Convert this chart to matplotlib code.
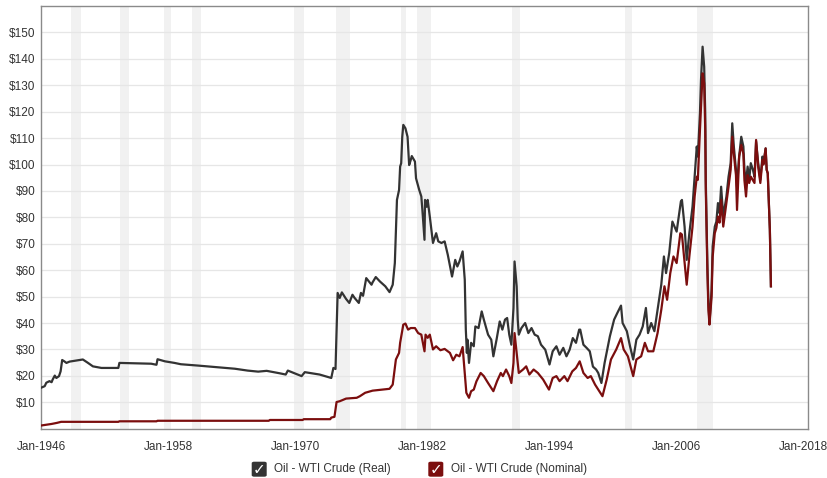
import matplotlib
matplotlib.use("Agg")
import matplotlib.pyplot as plt
from matplotlib.patches import FancyBboxPatch

plt.rcParams['font.family'] = ['Liberation Sans', 'DejaVu Sans']

# WTI crude, inflation adjusted (real), decimal year / USD per barrel
real_year = [
    1946.0, 1946.35, 1946.5, 1946.8, 1947.0, 1947.1, 1947.3, 1947.45, 1947.7, 1947.85,
    1948.0, 1948.2, 1948.4, 1948.7, 1949.95, 1950.4, 1950.9, 1951.7, 1953.3, 1953.4,
    1956.4, 1956.9, 1957.0, 1957.7, 1958.6, 1959.2, 1960.8, 1962.5, 1964.3, 1965.5,
    1966.5, 1967.3, 1968.5, 1969.1, 1969.3, 1970.6, 1970.9, 1972.3, 1973.4, 1973.6,
    1973.8, 1974.0, 1974.2, 1974.4, 1974.8, 1975.1, 1975.4, 1975.6, 1976.0, 1976.2,
    1976.4, 1976.7, 1977.2, 1977.3, 1977.6, 1978.0, 1978.5, 1978.9, 1979.2, 1979.4,
    1979.6, 1979.8, 1979.9, 1980.0, 1980.1, 1980.2, 1980.4, 1980.6, 1980.75, 1980.9,
    1981.0, 1981.3, 1981.4, 1981.7, 1981.9, 1982.0, 1982.2, 1982.25, 1982.4, 1982.5,
    1982.7, 1983.0, 1983.3, 1983.5, 1983.8, 1984.1, 1984.4, 1984.8, 1985.1, 1985.3,
    1985.5, 1985.8, 1986.0, 1986.1, 1986.2, 1986.25, 1986.4, 1986.6, 1986.85, 1987.0,
    1987.3, 1987.6, 1987.8, 1988.2, 1988.5, 1988.7, 1989.0, 1989.3, 1989.55, 1989.8,
    1990.0, 1990.2, 1990.4, 1990.6, 1990.7, 1990.9, 1991.0, 1991.1, 1991.35, 1991.7,
    1992.0, 1992.3, 1992.6, 1992.9, 1993.2, 1993.6, 1994.0, 1994.3, 1994.65, 1994.95,
    1995.3, 1995.6, 1995.9, 1996.2, 1996.5, 1996.8, 1996.9, 1997.2, 1997.5, 1997.8,
    1998.1, 1998.4, 1998.6, 1998.9, 1999.2, 1999.7, 2000.1, 2000.4, 2000.75, 2000.9,
    2001.3, 2001.6, 2001.9, 2002.2, 2002.5, 2002.8, 2003.1, 2003.3, 2003.6, 2003.9,
    2004.2, 2004.55, 2004.8, 2005.0, 2005.3, 2005.6, 2005.8, 2006.0, 2006.4, 2006.5,
    2006.75, 2006.95, 2007.2, 2007.5, 2007.7, 2007.9, 2008.0, 2008.2, 2008.3, 2008.45,
    2008.6, 2008.7, 2008.75, 2008.9, 2009.0, 2009.1, 2009.3, 2009.4, 2009.6, 2009.75,
    2009.9, 2010.05, 2010.2, 2010.4, 2010.7, 2010.9, 2011.1, 2011.25, 2011.4, 2011.6,
    2011.7, 2011.9, 2012.1, 2012.3, 2012.4, 2012.55, 2012.7, 2012.85, 2013.0, 2013.2,
    2013.35, 2013.5, 2013.7, 2013.9, 2014.1, 2014.2, 2014.4, 2014.5, 2014.6, 2014.8,
    2014.9,
]
real_price = [
    15.5, 16.1, 17.4, 18.0, 17.6, 18.6, 20.1, 19.2, 19.9, 21.7,
    26.0, 25.5, 24.9, 25.4, 26.2, 25.0, 23.6, 23.0, 23.0, 24.9,
    24.6, 24.2, 26.3, 25.5, 24.9, 24.4, 23.9, 23.3, 22.7, 22.0,
    21.6, 21.9, 21.0, 20.5, 22.0, 19.9, 21.4, 20.5, 19.2, 23.0,
    22.6, 51.4, 49.5, 51.6, 49.1, 47.6, 50.7, 49.5, 47.6, 51.4,
    50.3, 57.0, 54.5, 55.4, 57.4, 55.7, 53.9, 51.7, 54.5, 62.7,
    86.6, 90.4, 99.2, 100.5, 110.5, 115.0, 113.7, 110.5, 99.8, 101.7,
    103.2, 101.1, 94.8, 90.4, 87.9, 82.8, 71.5, 86.6, 84.0, 86.6,
    80.3, 70.3, 74.0, 70.9, 70.3, 70.9, 65.8, 57.6, 63.9, 61.4,
    63.3, 67.1, 56.4, 37.5, 28.7, 33.7, 24.9, 32.5, 31.2, 38.7,
    38.1, 44.4, 41.3, 35.6, 33.7, 27.4, 33.7, 40.6, 37.5, 41.3,
    41.9, 35.6, 31.8, 45.7, 63.3, 53.9, 41.3, 35.6, 38.1, 40.0,
    36.2, 38.1, 35.6, 35.0, 31.8, 29.9, 24.3, 29.3, 31.2, 28.0,
    30.6, 27.4, 29.9, 34.3, 32.5, 37.5, 37.5, 31.8, 30.6, 29.3,
    23.5, 22.4, 21.1, 17.3, 24.9, 35.0, 41.3, 43.8, 46.6, 40.0,
    36.9, 31.2, 26.2, 33.7, 35.6, 38.7, 45.7, 36.2, 40.0, 36.9,
    45.0, 54.5, 65.2, 58.9, 66.5, 78.4, 76.5, 74.6, 86.0, 86.6,
    76.5, 63.9, 74.0, 84.1, 95.4, 106.8, 103.0, 119.4, 132.0, 144.6,
    137.0, 119.4, 94.2, 62.7, 47.6, 40.0, 52.6, 69.0, 76.5, 78.4,
    85.4, 81.6, 91.6, 80.3, 87.9, 95.4, 100.5, 115.6, 106.8, 98.0,
    91.6, 103.0, 110.5, 106.8, 98.0, 93.0, 99.2, 94.2, 100.5, 98.0,
    95.4, 108.7, 100.5, 94.2, 103.0, 100.5, 106.1, 98.0, 96.7, 75.3,
    53.9,
]

# WTI crude, nominal
nom_year = [
    1946.0, 1946.5, 1947.0, 1947.5, 1947.9, 1953.3, 1953.4, 1956.9, 1957.0, 1967.5,
    1967.6, 1970.7, 1970.8, 1973.3, 1973.4, 1973.7, 1973.9, 1974.2, 1974.8, 1975.8,
    1976.1, 1976.6, 1977.3, 1978.9, 1979.2, 1979.5, 1979.8, 1979.9, 1980.2, 1980.4,
    1980.65, 1980.9, 1981.3, 1981.6, 1981.9, 1982.2, 1982.3, 1982.5, 1982.7, 1983.0,
    1983.3, 1983.7, 1984.1, 1984.6, 1984.9, 1985.2, 1985.5, 1985.8, 1986.0, 1986.15,
    1986.4, 1986.6, 1986.85, 1987.1, 1987.5, 1987.8, 1988.2, 1988.7, 1989.05, 1989.4,
    1989.6, 1989.9, 1990.2, 1990.4, 1990.6, 1990.7, 1990.9, 1991.1, 1991.5, 1991.8,
    1992.1, 1992.5, 1992.9, 1993.4, 1993.95, 1994.3, 1994.65, 1994.95, 1995.4, 1995.7,
    1996.15, 1996.5, 1996.85, 1997.2, 1997.6, 1997.9, 1998.3, 1998.7, 1999.0, 1999.4,
    1999.8, 2000.3, 2000.75, 2001.0, 2001.4, 2001.9, 2002.2, 2002.65, 2003.0, 2003.3,
    2003.8, 2004.2, 2004.55, 2004.85, 2005.1, 2005.4, 2005.7, 2006.0, 2006.35, 2006.5,
    2006.75, 2006.95, 2007.2, 2007.5, 2007.7, 2007.9, 2008.0, 2008.2, 2008.45, 2008.6,
    2008.7, 2008.75, 2008.9, 2009.0, 2009.1, 2009.3, 2009.4, 2009.6, 2009.75, 2009.9,
    2010.05, 2010.2, 2010.4, 2010.7, 2010.9, 2011.1, 2011.25, 2011.4, 2011.6, 2011.7,
    2011.9, 2012.1, 2012.3, 2012.4, 2012.55, 2012.7, 2012.85, 2013.0, 2013.2, 2013.35,
    2013.5, 2013.7, 2013.9, 2014.1, 2014.2, 2014.4, 2014.5, 2014.6, 2014.8, 2014.9,
]
nom_price = [
    1.2, 1.5, 1.8, 2.2, 2.6, 2.6, 2.8, 2.8, 3.0, 3.0,
    3.3, 3.3, 3.6, 3.6, 4.2, 4.5, 10.1, 10.4, 11.4, 11.7,
    12.3, 13.6, 14.4, 15.1, 16.7, 26.2, 28.7, 32.5, 39.4, 39.8,
    37.5, 38.1, 38.1, 36.2, 35.6, 29.3, 35.6, 34.4, 35.6, 30.0,
    31.2, 29.7, 30.2, 28.7, 25.9, 28.0, 27.4, 30.9, 21.1, 13.6,
    11.7, 14.2, 14.8, 17.9, 21.1, 19.9, 17.3, 14.2, 18.0, 21.1,
    19.9, 22.4, 19.9, 17.3, 24.9, 36.2, 28.7, 21.1, 22.4, 23.6,
    20.5, 22.4, 21.1, 18.6, 14.8, 19.2, 19.9, 18.0, 19.9, 18.0,
    21.7, 23.0, 25.5, 21.1, 19.2, 19.9, 16.7, 14.2, 12.3, 18.6,
    26.2, 30.0, 34.3, 30.0, 27.4, 19.9, 26.2, 27.4, 32.5, 29.3,
    29.3, 36.2, 45.0, 53.9, 48.8, 58.9, 65.2, 62.7, 74.0, 73.5,
    62.7, 54.5, 65.2, 76.5, 87.9, 95.4, 94.2, 113.0, 134.5, 130.7,
    113.0, 91.0, 60.0, 45.0, 39.4, 50.0, 65.0, 74.0, 76.0, 80.3,
    78.0, 86.6, 76.5, 85.4, 91.6, 98.0, 110.5, 104.0, 96.0, 82.8,
    103.0, 107.4, 104.0, 94.0, 87.9, 96.0, 93.0, 95.4, 94.0, 93.0,
    109.3, 99.0, 93.0, 101.7, 100.0, 106.1, 98.0, 96.7, 75.3, 53.9,
]

# US recessions (shaded bands)
rec_start = [1948.83, 1953.5, 1957.58, 1960.25, 1969.92, 1973.83, 1980.0, 1981.5, 1990.5, 2001.17, 2007.92]
rec_end = [1949.75, 1954.33, 1958.25, 1961.08, 1970.83, 1975.17, 1980.5, 1982.83, 1991.17, 2001.83, 2009.42]

xtick_years = [1946, 1958, 1970, 1982, 1994, 2006, 2018]
xtick_labels = ['Jan-%d' % y for y in xtick_years]
ytick_vals = list(range(10, 160, 10))

fig = plt.figure(figsize=(8.28, 4.78), dpi=100)
ax = fig.add_axes([41 / 828, 49.3 / 478, 767 / 828, 422.7 / 478])

for s, e in zip(rec_start, rec_end):
    ax.axvspan(s, e, color='#f1f1f1', lw=0, zorder=0)

ax.plot(real_year, real_price, color='#333333', lw=1.6, zorder=3)
ax.plot(nom_year, nom_price, color='#7b0e0e', lw=1.6, zorder=4)

ax.set_xlim(1946.0, 2018.4)
ax.set_ylim(0, 160)
ax.set_xticks(xtick_years)
ax.set_xticklabels(xtick_labels)
ax.set_yticks(ytick_vals)
ax.set_yticklabels(['$%d' % v for v in ytick_vals])
ax.tick_params(length=0, labelsize=8.5, labelcolor='#333333')
ax.tick_params(axis='x', pad=8.5)
ax.tick_params(axis='y', pad=4)
ax.grid(axis='y', color='#e6e6e6', lw=0.9, zorder=1)
ax.set_axisbelow(True)
for sp in ax.spines.values():
    sp.set_color('#8a8a8a')
    sp.set_linewidth(1.0)

# legend with check boxes
for x0, col, label in [(251.7, '#333333', 'Oil - WTI Crude (Real)'),
                       (428.3, '#7b0e0e', 'Oil - WTI Crude (Nominal)')]:
    box = FancyBboxPatch((x0 / 828, (478 - 476.7) / 478), 15 / 828, 15 / 478,
                         boxstyle='round,pad=0,rounding_size=0.003',
                         transform=fig.transFigure, fc=col, ec='none')
    fig.patches.append(box)
    fig.text((x0 + 7.5) / 828, (478 - 469.2) / 478, '\u2713', color='white',
             fontsize=11, ha='center', va='center', family='DejaVu Sans')
    fig.text((x0 + 22.3) / 828, (478 - 469.3) / 478, label, color='#333333',
             fontsize=8.5, ha='left', va='center')

fig.savefig('out.png', dpi=100)
